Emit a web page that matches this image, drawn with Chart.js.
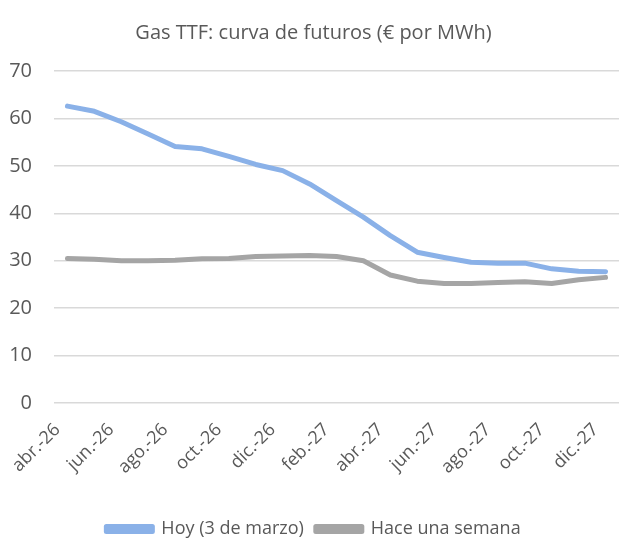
<!DOCTYPE html>
<html>
<head>
<meta charset="utf-8">
<script src="https://cdn.jsdelivr.net/npm/chart.js@4/dist/chart.umd.min.js"></script>
<style>
  html, body { margin: 0; padding: 0; background: #fff; }
  #wrap { width: 619px; height: 541px; }
</style>
</head>
<body>
<div id="wrap"><canvas id="grafico"></canvas></div>
<script>
// Meses de los contratos de futuros
const meses = [
  'abr.-26', 'may.-26', 'jun.-26', 'jul.-26', 'ago.-26', 'sep.-26', 'oct.-26',
  'nov.-26', 'dic.-26', 'ene.-27', 'feb.-27', 'mar.-27', 'abr.-27', 'may.-27',
  'jun.-27', 'jul.-27', 'ago.-27', 'sep.-27', 'oct.-27', 'nov.-27', 'dic.-27'
];

// Curva de hoy (3 de marzo)
const hoy = [
  62.6, 61.5, 59.3, 56.7, 54.1, 53.6, 52.0, 50.3, 49.0, 46.2, 42.7,
  39.2, 35.3, 31.8, 30.7, 29.7, 29.5, 29.5, 28.3, 27.8, 27.7
];

// Curva de hace una semana
const haceUnaSemana = [
  30.5, 30.3, 30.0, 30.0, 30.1, 30.4, 30.5, 30.9, 31.0, 31.1, 30.9,
  30.0, 27.0, 25.7, 25.2, 25.2, 25.4, 25.6, 25.2, 26.0, 26.5
];

const gris = '#595959';
const fuente = '"Open Sans", sans-serif';

const ctx = document.getElementById('grafico').getContext('2d');
const grafico = new Chart(ctx, {
  type: 'line',
  data: {
    labels: meses,
    datasets: [{
      label: 'Hoy (3 de marzo)',
      data: hoy,
      borderColor: '#8AB1E8',
      backgroundColor: '#8AB1E8',
      borderWidth: 5,
      borderCapStyle: 'round',
      borderJoinStyle: 'round',
      pointRadius: 0,
      tension: 0
    }, {
      label: 'Hace una semana',
      data: haceUnaSemana,
      borderColor: '#A5A5A5',
      backgroundColor: '#A5A5A5',
      borderWidth: 5,
      borderCapStyle: 'round',
      borderJoinStyle: 'round',
      pointRadius: 0,
      tension: 0
    }]
  },
  options: {
    responsive: true,
    maintainAspectRatio: false,
    animation: false,
    layout: {
      padding: { top: 8, right: 0, bottom: -7, left: 8 }
    },
    plugins: {
      title: {
        display: true,
        text: 'Gas TTF: curva de futuros (€ por MWh)',
        color: gris,
        font: { family: fuente, size: 20, weight: 'normal' },
        padding: { top: 13, bottom: 26 }
      },
      legend: {
        position: 'bottom',
        labels: {
          color: gris,
          font: { family: fuente, size: 18 },
          boxWidth: 46,
          boxHeight: 5,
          padding: 12
        }
      },
      tooltip: { enabled: false }
    },
    scales: {
      x: {
        offset: true,
        grid: { display: false, drawTicks: false },
        border: { display: false },
        // sin margenes extra por las etiquetas giradas y mas alto para bajar la leyenda
        afterFit: function(escala) {
          escala.paddingLeft = 0;
          escala.paddingRight = 0;
          escala.height += 14;
        },
        ticks: {
          color: gris,
          font: { family: fuente, size: 18 },
          autoSkip: false,
          minRotation: 45,
          maxRotation: 45,
          padding: 16,
          labelOffset: -10,
          callback: function(valor, i) {
            return i % 2 === 0 ? meses[i] : '';
          }
        }
      },
      y: {
        min: 0,
        max: 70,
        grid: { color: '#D9D9D9', lineWidth: 1.5, drawTicks: false },
        border: { display: false },
        afterFit: function(escala) {
          escala.width = 46;
        },
        ticks: {
          stepSize: 10,
          color: gris,
          font: { family: fuente, size: 20 },
          padding: 22
        }
      }
    }
  }
});
</script>
</body>
</html>
